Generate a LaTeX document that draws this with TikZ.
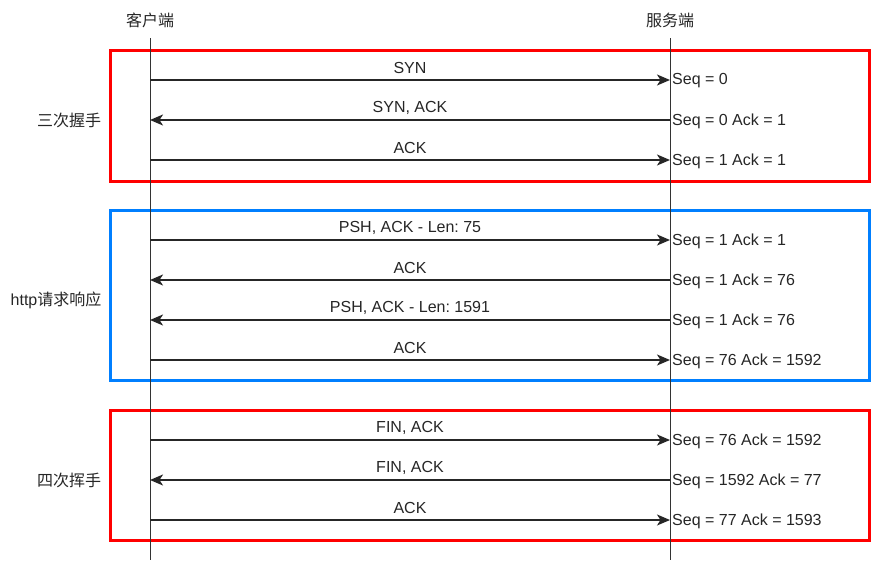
\documentclass[tikz,border=0pt]{standalone}
\usepackage{fontspec}
\setmainfont{Liberation Sans}
\newfontfamily\cjk{Noto Sans CJK SC}
\usetikzlibrary{arrows.meta}
\frenchspacing
\begin{document}
\begin{tikzpicture}[x=1pt,y=-1pt,
  lbl/.style={inner sep=0pt,text=black!85,font=\fontsize{16}{18}\selectfont},
  clbl/.style={inner sep=0pt,text=black!85,font=\cjk\fontsize{16}{18}\selectfont},
  life/.style={line width=1pt,black!80},
  msg/.style={line width=1.7pt,black!85,-{Stealth[length=13pt,width=11pt,inset=3.5pt]}},
  redbox/.style={draw=red,line width=3pt},
  bluebox/.style={draw={rgb,255:red,0;green,127;blue,255},line width=3pt}]
\useasboundingbox (0,0) rectangle (872,562);
% headers
\node[clbl] (hc) at (150,20) {客户端};
\node[clbl] (hs) at (670,20) {服务端};
\coordinate (ct) at (150,38); \coordinate (cb) at (150,560);
\coordinate (st) at (670,38); \coordinate (sb) at (670,560);
% boxes
\draw[redbox] (110,50) rectangle (869,181);
\draw[bluebox] (110,210) rectangle (869,380);
\draw[redbox] (110,410) rectangle (869,540);
% lifelines
\draw[life] (ct) -- (cb);
\draw[life] (st) -- (sb);
% group labels
\node[clbl] (g1) at (69,120) {三次握手};
\node[clbl] (g2) at (56,300) {\fontspec{Liberation Sans}http\cjk 请求响应};
\node[clbl] (g3) at (69,480) {四次挥手};
% messages
\foreach \i/\y/\dir/\t/\r in {
 1/80/r/SYN/{Seq = 0},
 2/120/l/{SYN, ACK}/{Seq = 0 Ack = 1},
 3/160/r/ACK/{Seq = 1 Ack = 1},
 4/240/r/{PSH, ACK - Len: 75}/{Seq = 1 Ack = 1},
 5/280/l/ACK/{Seq = 1 Ack = 76},
 6/320/l/{PSH, ACK - Len: 1591}/{Seq = 1 Ack = 76},
 7/360/r/ACK/{Seq = 76 Ack = 1592},
 8/440/r/{FIN, ACK}/{Seq = 76 Ack = 1592},
 9/480/l/{FIN, ACK}/{Seq = 1592 Ack = 77},
 10/520/r/ACK/{Seq = 77 Ack = 1593}}{
  \coordinate (c\i) at (150,\y);
  \coordinate (s\i) at (670,\y);
  \node[lbl] (t\i) at (410,\y-12) {\t};
  \node[lbl,anchor=west] (r\i) at (672,\y+1) {\r};
  \if r\dir \draw[msg] (c\i) -- (s\i); \else \draw[msg] (s\i) -- (c\i); \fi
}
\end{tikzpicture}
\end{document}
